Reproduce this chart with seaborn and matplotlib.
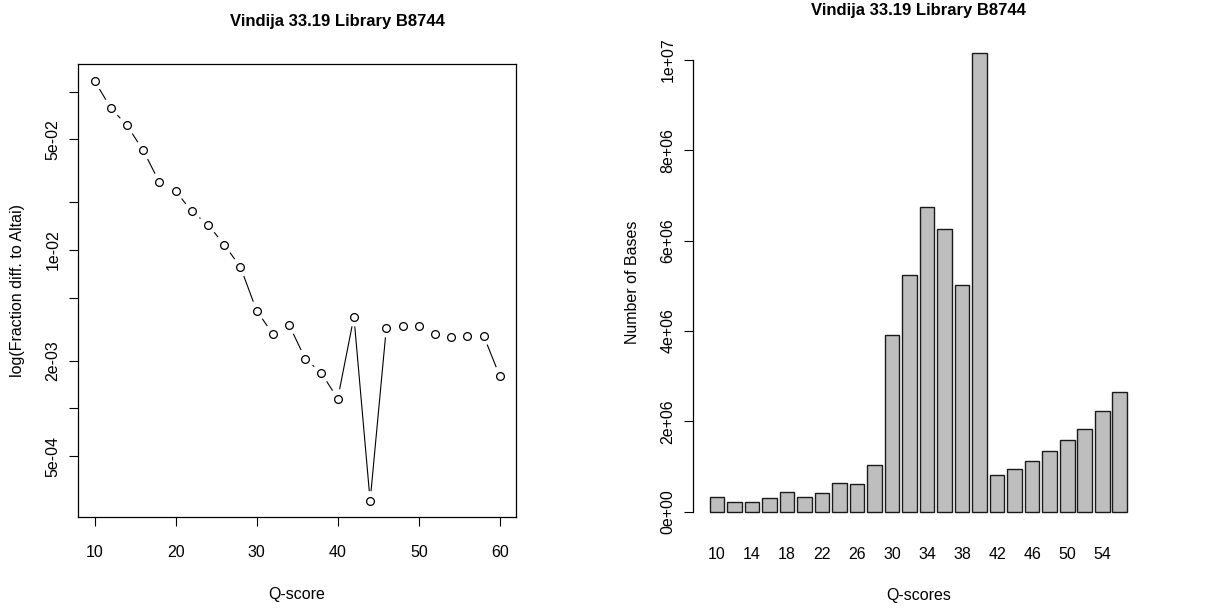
import numpy as np
import pandas as pd
import matplotlib
matplotlib.use("Agg")
import matplotlib.pyplot as plt
import seaborn as sns

# ---- data ----
title = "Vindija 33.19 Library B8744"
q_left = [10, 12, 14, 16, 18, 20, 22, 24, 26, 28, 30, 32, 34, 36, 38, 40,
          42, 44, 46, 48, 50, 52, 54, 56, 58, 60]
frac_diff = [0.117, 0.0787, 0.0612, 0.0425, 0.0268, 0.0236, 0.0175, 0.01445,
             0.0108, 0.00781, 0.00414, 0.00295, 0.00336, 0.00206, 0.00167,
             0.00115, 0.00379, 0.000261, 0.00323, 0.00331, 0.00333, 0.00296,
             0.00284, 0.00286, 0.00288, 0.00160]
left_yticks = [1e-1, 5e-2, 2e-2, 1e-2, 5e-3, 2e-3, 1e-3, 5e-4]
left_yticklabels = ["", "5e-02", "", "1e-02", "", "2e-03", "", "5e-04"]
left_xticks = [10, 20, 30, 40, 50, 60]

q_right = [10, 12, 14, 16, 18, 20, 22, 24, 26, 28, 30, 32, 34, 36, 38, 40,
           42, 44, 46, 48, 50, 52, 54, 56]
n_bases = [0.33e6, 0.215e6, 0.22e6, 0.30e6, 0.44e6, 0.32e6, 0.42e6, 0.64e6,
           0.62e6, 1.04e6, 3.92e6, 5.23e6, 6.74e6, 6.25e6, 5.02e6, 10.15e6,
           0.805e6, 0.945e6, 1.115e6, 1.35e6, 1.59e6, 1.84e6, 2.22e6, 2.65e6]
right_yticks = [0, 2e6, 4e6, 6e6, 8e6, 1e7]
right_yticklabels = ["0e+00", "2e+06", "4e+06", "6e+06", "8e+06", "1e+07"]

TICK_FS = 11.5
LABEL_FS = 11.5
TITLE_FS = 12

sns.set_theme(style="ticks")
plt.rcParams["font.family"] = ["Liberation Sans", "DejaVu Sans"]
plt.rcParams["axes.unicode_minus"] = False

fig = plt.figure(figsize=(12.26, 6.10), dpi=100)
fig.patch.set_facecolor("white")

# ---------- left panel ----------
ax1 = fig.add_axes([0.0639, 0.1520, 0.3570, 0.7431])
df1 = pd.DataFrame({"q": q_left, "f": frac_diff})
sns.lineplot(data=df1, x="q", y="f", ax=ax1, color="black", lw=0.8, sort=False, zorder=1)
# white halos emulate R's type="b" gaps around points
sns.scatterplot(data=df1, x="q", y="f", ax=ax1, s=14**2, color="white",
                edgecolor="none", linewidth=0, zorder=2)
sns.scatterplot(data=df1, x="q", y="f", ax=ax1, s=5.6**2, marker="o",
                facecolor="white", edgecolor="black", linewidth=0.9, zorder=3)
ax1.set_yscale("log")
ax1.set_xlim(8, 62)
ax1.set_ylim(10 ** -3.687, 10 ** -0.826)
ax1.set_yticks(left_yticks)
ax1.set_yticklabels(left_yticklabels, rotation=90, va="center")
ax1.yaxis.set_minor_locator(matplotlib.ticker.NullLocator())
ax1.set_xticks(left_xticks)
ax1.set_xticklabels([str(v) for v in left_xticks])
for sp in ax1.spines.values():
    sp.set_color("black")
    sp.set_linewidth(0.9)
ax1.tick_params(axis="both", length=6.7, width=0.8, color="black",
                labelsize=TICK_FS, labelcolor="black", direction="out")
ax1.tick_params(axis="x", pad=13.5)
ax1.tick_params(axis="y", pad=6)
ax1.set_xlabel("Q-score", fontsize=LABEL_FS, color="black")
ax1.set_ylabel("log(Fraction diff. to Altai)", fontsize=LABEL_FS, color="black")
ax1.xaxis.set_label_coords(0.5, -0.1714)
ax1.xaxis.label.set_va("center")
ax1.yaxis.set_label_coords(-0.1400, 0.5)
ax1.yaxis.label.set_va("center")
ax1.set_title(title, fontsize=TITLE_FS, fontweight="bold", pad=27, color="black",
              x=0.591)
ax1.grid(False)

# ---------- right panel ----------
ax2 = fig.add_axes([0.5653, 0.1311, 0.3676, 0.8121])
df2 = pd.DataFrame({"q": [str(v) for v in q_right], "n": n_bases})
sns.barplot(data=df2, x="q", y="n", ax=ax2, color="#bebebe", saturation=1,
            width=1 / 1.2, edgecolor="#1a1a1a", linewidth=1.0, errorbar=None)
ax2.set_xlim(-1.37, len(q_right) - 1 + 1.37)
ax2.set_ylim(-0.04 * max(n_bases), 1.04 * max(n_bases))
ax2.set_xticks(range(len(q_right)))
ax2.set_xticklabels([str(v) if i % 2 == 0 else "" for i, v in enumerate(q_right)])
ax2.set_yticks(right_yticks)
ax2.set_yticklabels(right_yticklabels, rotation=90, va="center")
for side in ["top", "right", "bottom"]:
    ax2.spines[side].set_visible(False)
ax2.spines["left"].set_bounds(0, 1e7)
ax2.spines["left"].set_color("black")
ax2.spines["left"].set_linewidth(0.9)
ax2.tick_params(axis="y", length=6.7, width=0.8, color="black", labelsize=TICK_FS,
                labelcolor="black", pad=6)
ax2.tick_params(axis="x", length=0, labelsize=TICK_FS, labelcolor="black", pad=12)
ax2.set_xlabel("Q-scores", fontsize=LABEL_FS, color="black")
ax2.set_ylabel("Number of Bases", fontsize=LABEL_FS, color="black")
ax2.xaxis.set_label_coords(0.5, -0.1312)
ax2.xaxis.label.set_va("center")
ax2.yaxis.set_label_coords(-0.1350, 0.5)
ax2.yaxis.label.set_va("center")
ax2.set_title(title, fontsize=TITLE_FS, fontweight="bold", pad=14, color="black")
ax2.grid(False)
ax2.set_facecolor("white")

fig.savefig("out.png", dpi=100, facecolor="white")
